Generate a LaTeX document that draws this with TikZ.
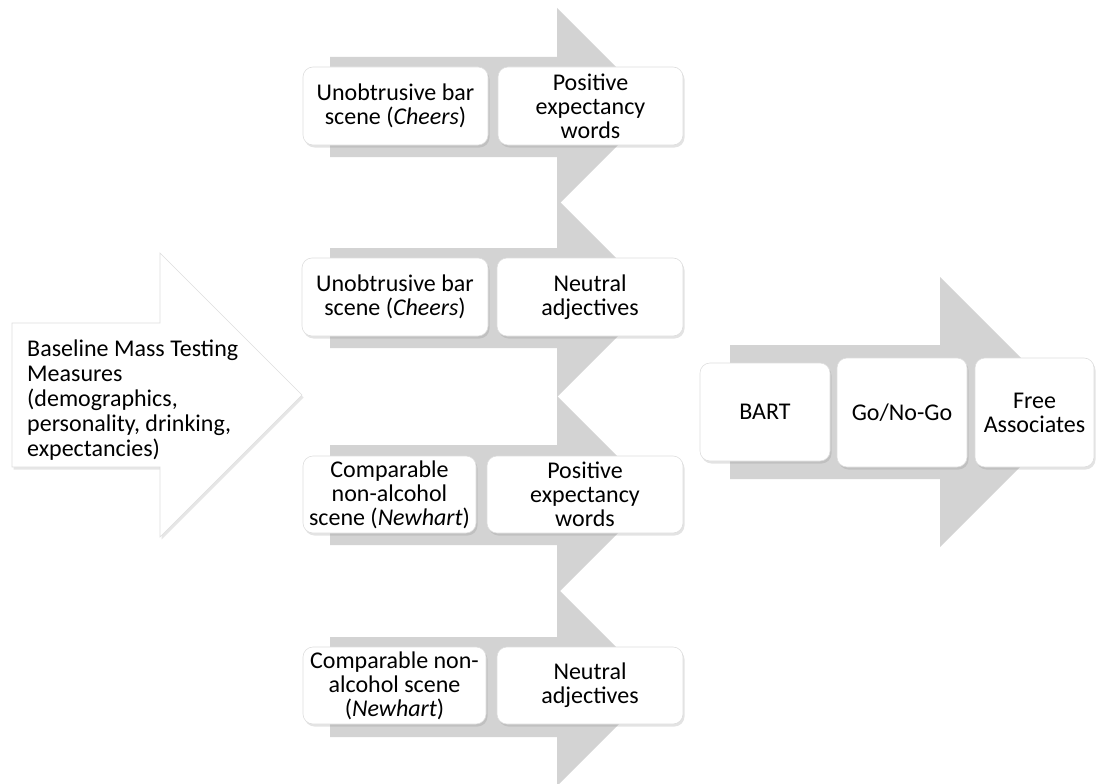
\documentclass[tikz,border=0pt]{standalone}
\usepackage{fontspec}
\setmainfont{Carlito}
\usetikzlibrary{shadows}
\definecolor{arrowgray}{RGB}{211,211,211}
\definecolor{edgegray}{RGB}{222,222,222}
% #1 style, #2 left x, #3 head base x, #4 centre y, #5 half shaft, #6 half head
\newcommand{\fatarrow}[6]{%
  \path[#1] (#2,#4-#5) -- (#3,#4-#5) -- (#3,#4-#6) -- (#3+#6,#4)
    -- (#3,#4+#6) -- (#3,#4+#5) -- (#2,#4+#5) -- cycle;}

\begin{document}
\begin{tikzpicture}[x=1pt,y=-1pt,
    card/.style={draw=edgegray, line width=0.6pt, fill=white,
      rounded corners=10pt, inner sep=2pt, align=center,
      font=\fontsize{24}{24}\selectfont,
      drop shadow={opacity=0.22, shadow xshift=1.5pt, shadow yshift=-2.5pt}},
    bigtext/.style={align=left, anchor=west, inner sep=0pt,
      font=\fontsize{24}{25}\selectfont}]
    \useasboundingbox (0,0) rectangle (1096,784);
    \begin{scope}
    \clip (0,0) rectangle (1096,784);
    % grey arrows of the middle column
    \fatarrow{fill=arrowgray}{330}{557}{107}{50}{99}
    \fatarrow{fill=arrowgray}{330}{557}{298}{50}{99}
    \fatarrow{fill=arrowgray}{330}{557}{495}{50}{99}
    \fatarrow{fill=arrowgray}{330}{557}{687}{50}{99}
    % grey arrow on the right
    \fatarrow{fill=arrowgray}{730}{940}{412}{67}{135}
    \end{scope}
    % white arrow on the left
    \fatarrow{fill=white, draw=edgegray, line width=0.6pt,
      drop shadow={opacity=0.2, shadow xshift=1.5pt, shadow yshift=-2.5pt}}{12}{160}{395}{72}{142}
    \node[bigtext] (base) at (27,400) {Baseline Mass Testing\\Measures\\(demographics,\\personality, drinking,\\expectancies)};

    \node[card, minimum width=185, minimum height=78] (cheersa) at (395.5,106) {Unobtrusive bar\\scene (\textit{Cheers})};
    \node[card, minimum width=185, minimum height=78] (cheersb) at (590.5,106) {Positive\\expectancy\\words};

    \node[card, minimum width=186, minimum height=78] (cheersc) at (395,297) {Unobtrusive bar\\scene (\textit{Cheers})};
    \node[card, minimum width=186, minimum height=78] (cheersd) at (590,297) {Neutral\\adjectives};

    \node[card, minimum width=173, minimum height=77] (newharta) at (389.5,494.5) {Comparable\\non-alcohol\\scene (\textit{Newhart})};
    \node[card, minimum width=196, minimum height=77] (newhartb) at (585,494.5) {Positive\\expectancy\\words};

    \node[card, minimum width=183, minimum height=77] (newhartc) at (394.5,685.5) {Comparable non-\\alcohol scene\\(\textit{Newhart})};
    \node[card, minimum width=186, minimum height=77] (newhartd) at (590,685.5) {Neutral\\adjectives};

    \node[card, minimum width=130, minimum height=98] (bart) at (765,412) {BART};
    \node[card, minimum width=130, minimum height=109] (gonogo) at (902,412.5) {Go/No-Go};
    \node[card, minimum width=119, minimum height=109] (free) at (1034.5,412.5) {Free\\Associates};
\end{tikzpicture}
\end{document}
